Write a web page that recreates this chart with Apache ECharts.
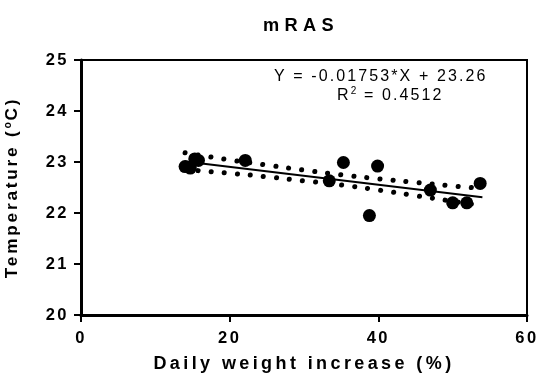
<!DOCTYPE html>
<html><head><meta charset="utf-8">
<script src="https://cdn.jsdelivr.net/npm/echarts@6/dist/echarts.min.js"></script>
<style>html,body{margin:0;padding:0;background:#fff}#c{width:536px;height:380px}</style>
</head><body><div id="c"></div>
<script>
var pointsX = [14.0, 14.7, 15.3, 15.8, 22.1, 33.4, 35.3, 38.8, 39.9, 47.0, 50.0, 51.9, 53.7];
var pointsY = [22.91, 22.88, 23.06, 23.03, 23.03, 22.63, 22.99, 21.95, 22.92, 22.45, 22.20, 22.20, 22.58];
var fitX = [14, 54];
var fitY = [23.01, 22.31];
var bandX = [14, 20, 25, 30, 35, 40, 45, 50, 54];
var bandUpper = [23.18, 23.04, 22.94, 22.84, 22.75, 22.67, 22.60, 22.53, 22.48];
var bandLower = [22.85, 22.78, 22.71, 22.63, 22.55, 22.45, 22.34, 22.23, 22.14];
var xTicks = [0, 20, 40, 60];
var yTicks = [20, 21, 22, 23, 24, 25];
var titleText = 'mRAS';
var eqText = 'Y = -0.01753*X + 23.26';
var r2Text = '0.4512';

// letter spacing (the reference is rendered with spaced letters), keyed by font size
var SPACING = { '18.2': 5.3, '18': 3.4, '17.2': 2.8, '16.5': 2.5, '16': 2.1, '10': 1.2, '10.5': 1.5 };
['fillText', 'strokeText', 'measureText'].forEach(function (fn) {
  var orig = CanvasRenderingContext2D.prototype[fn];
  CanvasRenderingContext2D.prototype[fn] = function () {
    var m = /([\d.]+)px/.exec(this.font);
    var s = m ? (SPACING[String(parseFloat(m[1]))] || 0) : 0;
    try { this.letterSpacing = s + 'px'; } catch (e) {}
    return orig.apply(this, arguments);
  };
});

function zip(a, b) { return a.map(function (v, i) { return [v, b[i]]; }); }
var F = '"Liberation Sans", Arial, sans-serif';
var chart = echarts.init(document.getElementById('c'));
chart.setOption({
  animation: false,
  grid: { left: 81, right: 9, top: 60, bottom: 65, show: true, borderColor: '#000', borderWidth: 2,
    containLabel: false, outerBoundsMode: 'none' },
  xAxis: {
    type: 'value', min: xTicks[0], max: xTicks[xTicks.length - 1], interval: 20,
    name: 'Daily weight increase (%)', nameLocation: 'middle', nameGap: 35,
    nameTextStyle: { fontFamily: F, fontWeight: 'bold', fontSize: 18, color: '#000' },
    axisLine: { lineStyle: { color: '#000', width: 3 } },
    axisTick: { length: 7, lineStyle: { color: '#000', width: 2 } },
    axisLabel: { fontFamily: F, fontWeight: 'bold', fontSize: 16.5, color: '#000', margin: 14 },
    splitLine: { show: false }
  },
  yAxis: {
    type: 'value', min: yTicks[0], max: yTicks[yTicks.length - 1], interval: 1,
    name: '{n|Temperature (}{s|o}{n|C)}', nameLocation: 'middle', nameGap: 58,
    nameTextStyle: { rich: {
      n: { fontFamily: F, fontWeight: 'bold', fontSize: 17.2, color: '#000' },
      s: { fontFamily: F, fontWeight: 'bold', fontSize: 10.5, color: '#000', verticalAlign: 'top', padding: [0, 0, 9, 0] } } },
    axisLine: { lineStyle: { color: '#000', width: 3 } },
    axisTick: { length: 7, lineStyle: { color: '#000', width: 2 } },
    axisLabel: { fontFamily: F, fontWeight: 'bold', fontSize: 16.5, color: '#000', margin: 12 },
    splitLine: { show: false }
  },
  graphic: [
    { type: 'text', x: 301, y: 14, style: { text: titleText, textAlign: 'center', textVerticalAlign: 'top',
      font: 'bold 18.2px ' + F, fill: '#000' } },
    { type: 'text', x: 274, y: 67.5, style: { text: eqText, textVerticalAlign: 'top', font: '16px ' + F, fill: '#000' } },
    { type: 'text', x: 337, y: 86, style: {
      text: '{a|R}{b|2}{a| = ' + r2Text + '}', textVerticalAlign: 'top',
      rich: { a: { fontFamily: F, fontSize: 16, color: '#000' },
              b: { fontFamily: F, fontSize: 10, color: '#000', verticalAlign: 'top', padding: [0, 0, 8, 0] } } } }
  ],
  series: [
    { type: 'line', data: zip(bandX, bandUpper), smooth: true, symbol: 'none',
      lineStyle: { color: '#000', width: 5, type: [0.1, 13], cap: 'round' }, z: 2 },
    { type: 'line', data: zip(bandX, bandLower), smooth: true, symbol: 'none',
      lineStyle: { color: '#000', width: 5, type: [0.1, 13], cap: 'round' }, z: 2 },
    { type: 'line', data: zip(fitX, fitY), symbol: 'none',
      lineStyle: { color: '#000', width: 2 }, z: 3 },
    { type: 'scatter', data: zip(pointsX, pointsY), symbol: 'circle', symbolSize: 13,
      itemStyle: { color: '#000', opacity: 1 }, z: 4 }
  ]
});
</script></body></html>
